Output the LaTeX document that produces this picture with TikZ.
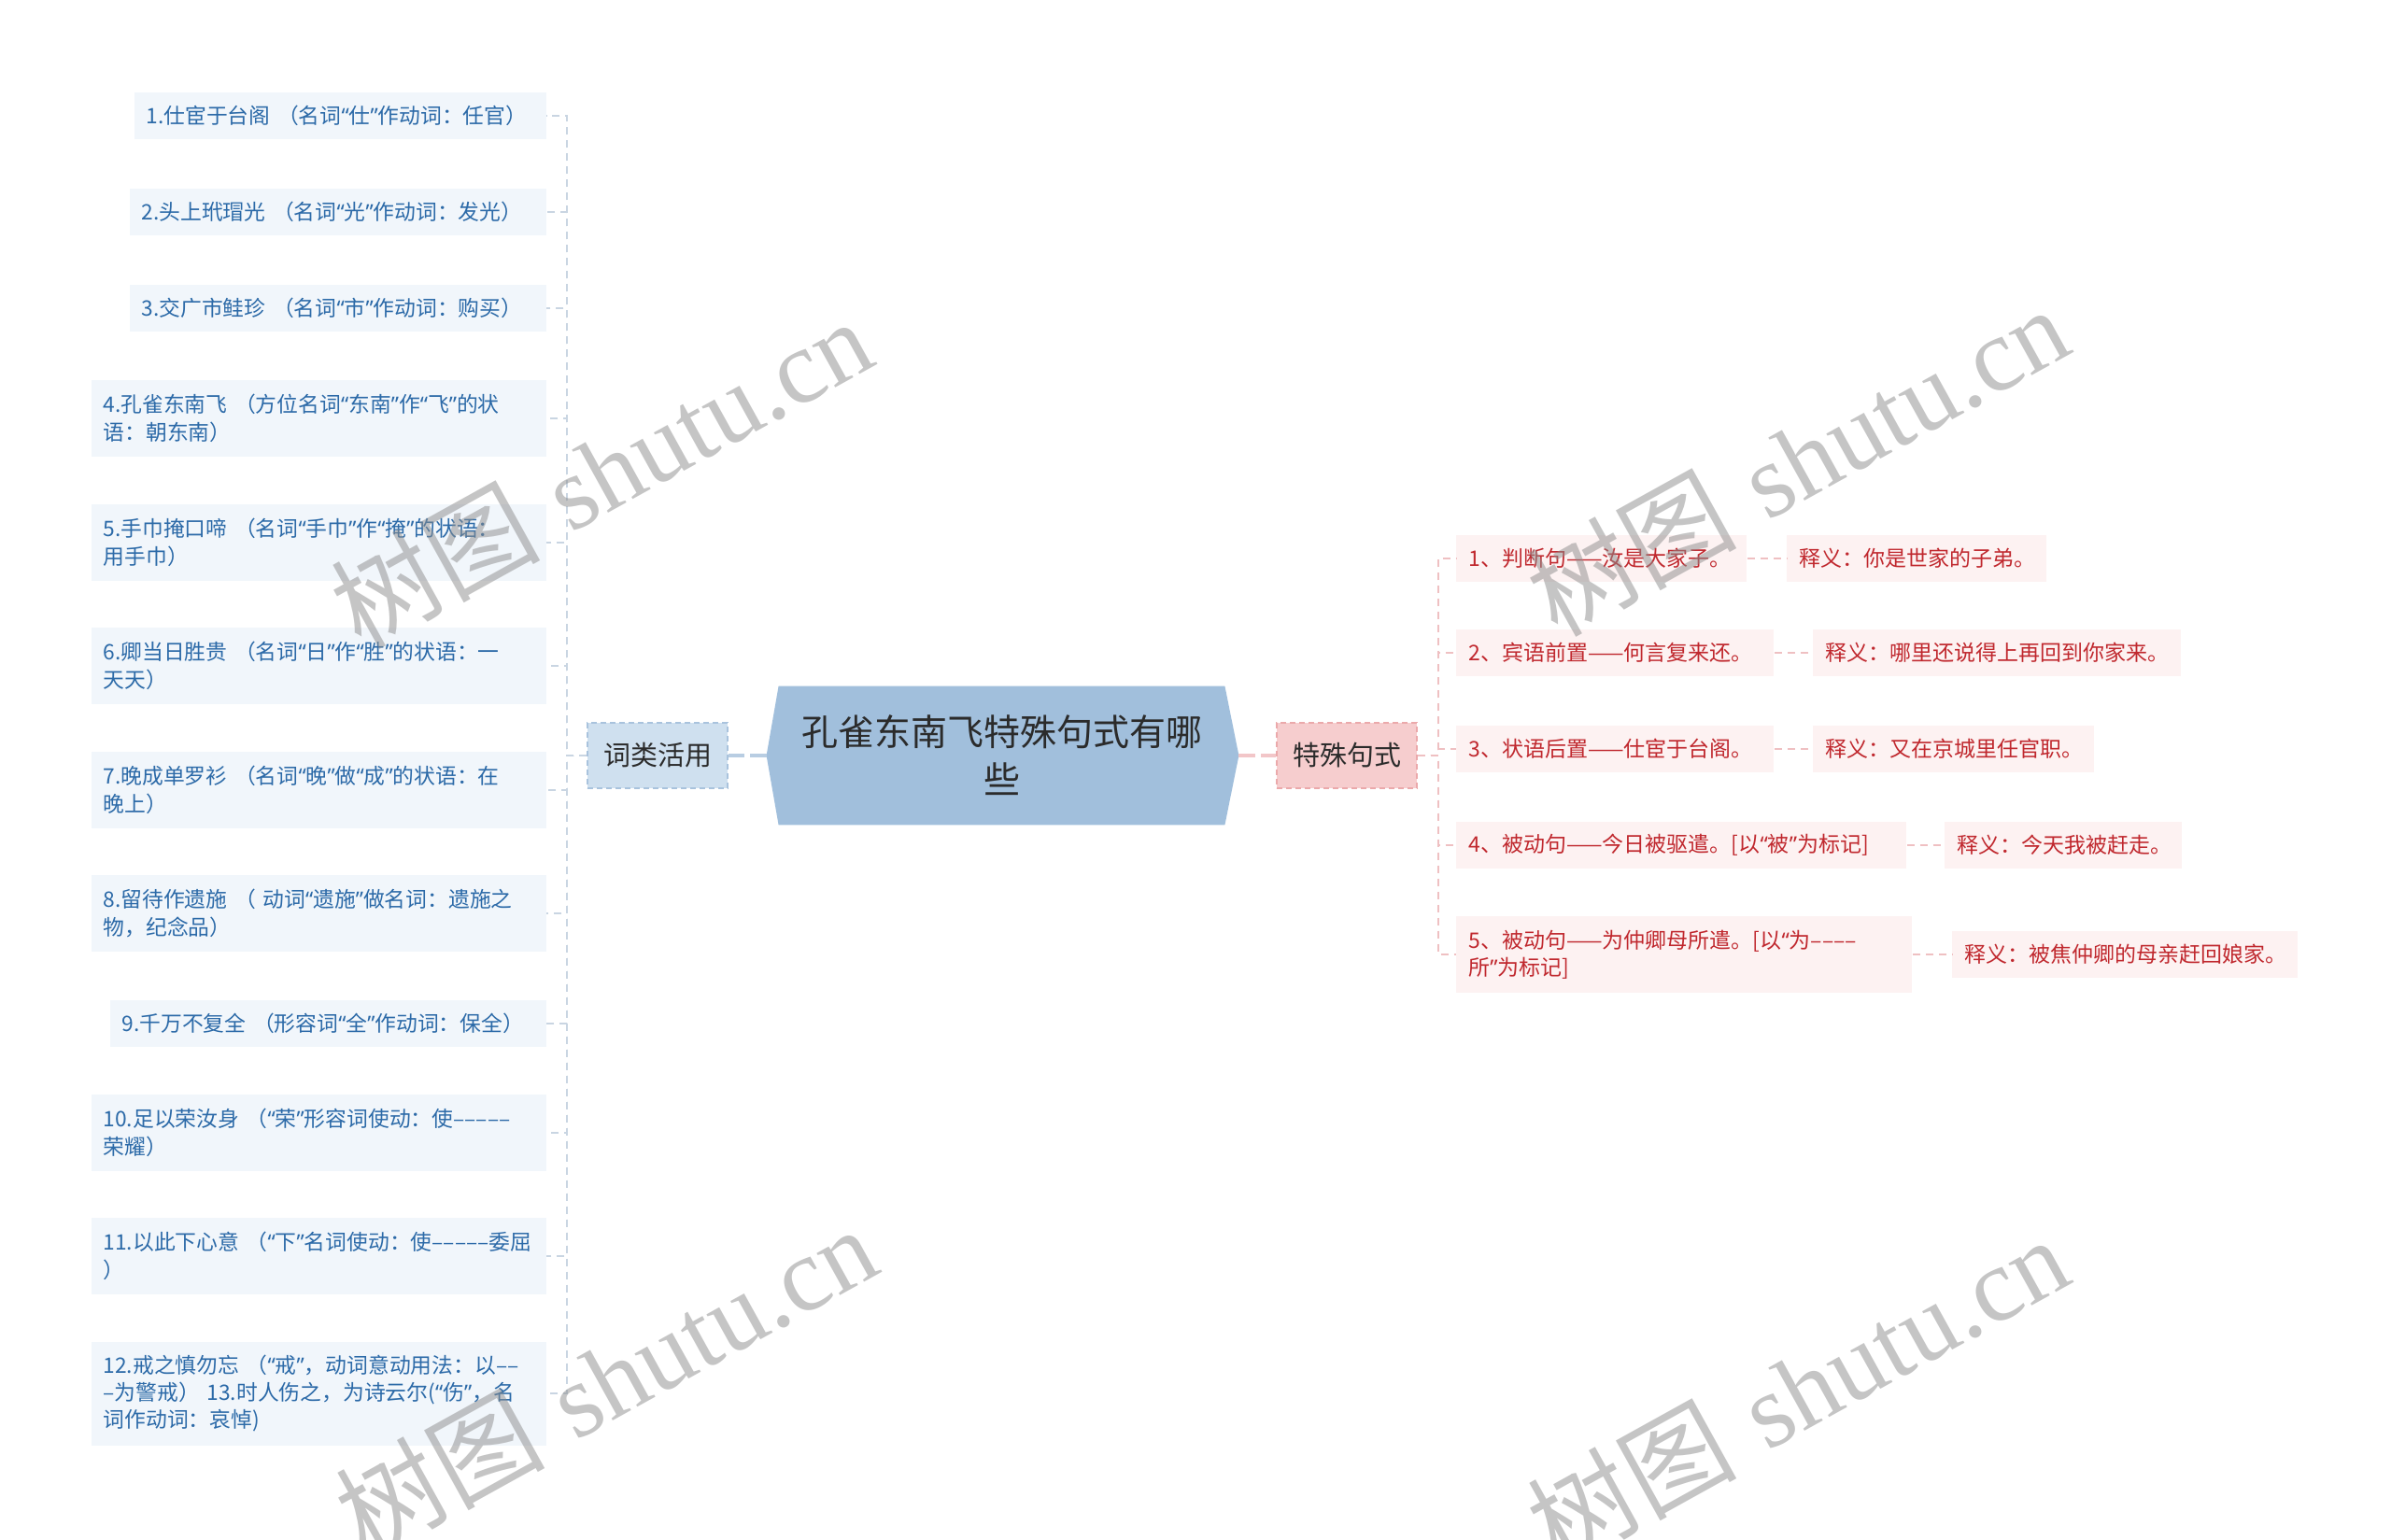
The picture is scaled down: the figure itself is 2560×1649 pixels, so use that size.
\documentclass[tikz,border=0pt]{standalone}
\usepackage{fontspec}
\newfontfamily\cjk{Noto Sans CJK SC}
\newfontfamily\qf{Noto Sans}
\newfontfamily\wmserif{Liberation Serif}
\newcommand\oq{{\qf “}}
\newcommand\cq{{\qf ”}}
\usetikzlibrary{backgrounds}
\definecolor{lfill}{HTML}{F1F6FB}
\definecolor{ltext}{HTML}{2C6AA8}
\definecolor{rfill}{HTML}{FDF2F2}
\definecolor{rtext}{HTML}{C0282E}
\definecolor{wlfill}{HTML}{CFE0EF}
\definecolor{wldraw}{HTML}{A9C3DD}
\definecolor{tsfill}{HTML}{F6CDCE}
\definecolor{tsdraw}{HTML}{EBA9AB}
\definecolor{cfill}{HTML}{A1BFDC}
\definecolor{ctext}{HTML}{2B2B2B}
\definecolor{lline}{HTML}{C9D5E2}
\definecolor{rline}{HTML}{EFC0C2}
\definecolor{lmain}{HTML}{B8CDE2}
\definecolor{rmain}{HTML}{F2C6C8}
\begin{document}
\begin{tikzpicture}[x=0.5pt,y=-0.5pt,
  litem/.style={fill=lfill, text=ltext, font=\cjk\fontsize{11.4}{14.7}\selectfont,
    inner xsep=6.5pt, inner ysep=0pt, align=left, anchor=east, minimum height=25pt},
  ritem/.style={fill=rfill, text=rtext, font=\cjk\fontsize{11.5}{14.7}\selectfont,
    inner xsep=6.5pt, inner ysep=0pt, align=left, anchor=west, minimum height=25pt},
  two/.style={minimum height=41pt},
  three/.style={minimum height=55.5pt},
  topic/.style={font=\cjk\fontsize{14.5}{17}\selectfont, text=ctext, line width=0.6pt,
    dash pattern=on 3pt off 2pt, minimum width=75pt, minimum height=35pt, inner sep=0pt},
  lconn/.style={draw=lline, line width=0.9pt, dash pattern=on 4pt off 3pt},
  rconn/.style={draw=rline, line width=0.9pt, dash pattern=on 4pt off 3pt},
  wm/.style={text=black!45, text opacity=0.5, rotate=29, font=\fontsize{56}{60}\selectfont, inner sep=0pt}
]
\useasboundingbox (0,0) rectangle (2560,1649);

% center
\node[font=\cjk\fontsize{19.5}{25.5}\selectfont, text=ctext, align=center,
  minimum width=238.5pt, minimum height=74pt, inner sep=0pt] (c) at (1072.5,809)
  {孔雀东南飞特殊句式有哪\\些};
\coordinate (cl) at ([xshift=-6.5pt]c.west);
\coordinate (cr) at ([xshift=7.5pt]c.east);
\begin{scope}[on background layer]
\fill[white] (0,0) rectangle (2560,1649);
\fill[cfill] (c.north west) -- (c.north east) -- (cr) -- (c.south east) -- (c.south west) -- (cl) -- cycle;
\end{scope}

% topics
\node[topic, fill=wlfill, draw=wldraw] (wl) at (704,809) {词类活用};
\node[topic, fill=tsfill, draw=tsdraw] (ts) at (1442,809) {特殊句式};
\draw[draw=lmain, line width=1.6pt, dash pattern=on 9pt off 3pt] (cl) -- (wl.east);
\draw[draw=rmain, line width=1.6pt, dash pattern=on 9pt off 3pt] (cr) -- (ts.west);

% left items
\node[litem, text width=207.5pt] (L1) at (585,124) {1.仕宦于台阁~（名词\oq 仕\cq 作动词：任官）};
\node[litem, text width=210pt] (L2) at (585,227) {2.头上玳瑁光~（名词\oq 光\cq 作动词：发光）};
\node[litem, text width=210pt] (L3) at (585,330) {3.交广市鲑珍~（名词\oq 市\cq 作动词：购买）};
\node[litem, two, text width=230.5pt] (L4) at (585,448) {\mbox{4.孔雀东南飞~（方位名词\oq 东南\cq 作\oq 飞\cq 的状}\\语：朝东南）};
\node[litem, two, text width=230.5pt] (L5) at (585,581) {\mbox{5.手巾掩口啼~（名词\oq 手巾\cq 作\oq 掩\cq 的状语：}\\用手巾）};
\node[litem, two, text width=230.5pt] (L6) at (585,713) {\mbox{6.卿当日胜贵~（名词\oq 日\cq 作\oq 胜\cq 的状语：一}\\天天）};
\node[litem, two, text width=230.5pt] (L7) at (585,846) {\mbox{7.晚成单罗衫~（名词\oq 晚\cq 做\oq 成\cq 的状语：在}\\晚上）};
\node[litem, two, text width=230.5pt] (L8) at (585,978) {\mbox{8.留待作遗施~（~动词\oq 遗施\cq 做名词：遗施之}\\物，纪念品）};
\node[litem, text width=220.5pt] (L9) at (585,1096) {9.千万不复全~（形容词\oq 全\cq 作动词：保全）};
\node[litem, two, text width=230.5pt] (L10) at (585,1213) {\mbox{10.足以荣汝身~（\oq 荣\cq 形容词使动：使–––––}\\荣耀）};
\node[litem, two, text width=230.5pt] (L11) at (585,1345) {\mbox{11.以此下心意~（\oq 下\cq 名词使动：使–––––委屈}\\）};
\node[litem, three, text width=230.5pt] (L12) at (585,1492) {\mbox{12.戒之慎勿忘~（\oq 戒\cq ，动词意动用法：以––}\\\mbox{–为警戒）~13.时人伤之，为诗云尔(\oq 伤\cq ，名}\\词作动词：哀悼)};

\coordinate (lsp) at (607,809);
\foreach \i in {1,...,12} {\draw[lconn] (wl.west) -- (lsp) |- (L\i.east);}

% right items
\node[ritem, text width=142.5pt] (R1) at (1559,598) {1、判断句——汝是大家子。};
\node[ritem, text width=126pt] (Rc1) at (1913,598) {释义：你是世家的子弟。};
\node[ritem, text width=157pt] (R2) at (1559,699) {2、宾语前置——何言复来还。};
\node[ritem, text width=184pt] (Rc2) at (1941,699) {释义：哪里还说得上再回到你家来。};
\node[ritem, text width=157pt] (R3) at (1559,802) {3、状语后置——仕宦于台阁。};
\node[ritem, text width=137.5pt] (Rc3) at (1941,802) {释义：又在京城里任官职。};
\node[ritem, text width=228pt] (R4) at (1559,905) {4、被动句——今日被驱遣。[以\oq 被\cq 为标记]};
\node[ritem, text width=114pt] (Rc4) at (2082,905) {释义：今天我被赶走。};
\node[ritem, two, text width=231pt] (R5) at (1559,1022) {\mbox{5、被动句——为仲卿母所遣。[以\oq 为––––}\\所\cq 为标记]};
\node[ritem, text width=172pt] (Rc5) at (2090,1022) {释义：被焦仲卿的母亲赶回娘家。};

\coordinate (rsp) at (1540,809);
\foreach \i in {1,...,5} {
  \draw[rconn] (ts.east) -- (rsp) |- (R\i.west);
  \draw[rconn] (R\i.east) -- (Rc\i.west);
}

% watermarks
\begin{scope}
\clip (0,0) rectangle (2560,1649);
\node[wm] (wm1) at (643,506) {{\cjk 树图} {\wmserif shutu.cn}};
\node[wm] (wm2) at (648,1478) {{\cjk 树图} {\wmserif shutu.cn}};
\node[wm] (wm3) at (1924,493) {{\cjk 树图} {\wmserif shutu.cn}};
\node[wm] (wm4) at (1924,1489) {{\cjk 树图} {\wmserif shutu.cn}};
\end{scope}
\end{tikzpicture}
\end{document}
